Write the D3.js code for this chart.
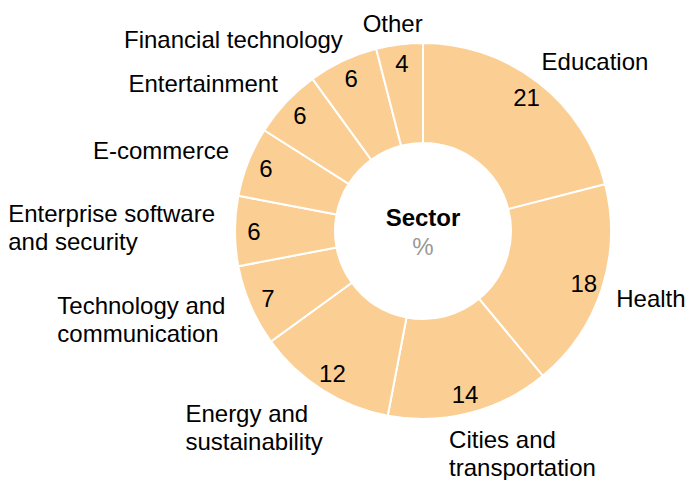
<!DOCTYPE html>
<html>
<head>
<meta charset="utf-8">
<script src="https://cdn.jsdelivr.net/npm/d3@7"></script>
<style>
  body { margin: 0; background: #fff; }
  text { font-family: "Liberation Sans", Arial, sans-serif; }
</style>
</head>
<body>
<script>
var w = 688;
var h = 480;

// Chart data
var sectors = [
    ["Education"],
    ["Health"],
    ["Cities and", "transportation"],
    ["Energy and", "sustainability"],
    ["Technology and", "communication"],
    ["Enterprise software", "and security"],
    ["E-commerce"],
    ["Entertainment"],
    ["Financial technology"],
    ["Other"]
];
var shares = [21, 18, 14, 12, 7, 6, 6, 6, 6, 4];
var centerTitle = "Sector";
var centerUnit = "%";

var cx = 423, cy = 231;
var outerR = 188, innerR = 88;
var valueR = 169;   // radius for the numbers in the slices
var labelR = 200;   // radius for the category names
var lineH = 28;

// small hand nudges for the category names (dx, dy), same order as sectors
var labelNudge = [[-4, 0], [3, 1], [-5, 2], [7, 4], [-14, -2],
                  [-8, -4], [-8, -2], [1, -1], [5, 2], [6, 5]];

var svg = d3.select("body")
    .append("svg")
    .attr("width", w)
    .attr("height", h);

var g = svg.append("g")
    .attr("transform", "translate(" + cx + "," + cy + ")");

var pie = d3.pie()
    .sort(null)
    .value(function (d) { return d; });

var arc = d3.arc()
    .innerRadius(innerR)
    .outerRadius(outerR);

var arcs = pie(shares);

g.selectAll("path")
    .data(arcs)
    .enter()
    .append("path")
    .attr("d", arc)
    .attr("fill", "#fbcf93")
    .attr("stroke", "#fff")
    .attr("stroke-width", 2);

// values inside the slices
g.selectAll("text.value")
    .data(arcs)
    .enter()
    .append("text")
    .attr("class", "value")
    .attr("x", function (d) { return Math.sin((d.startAngle + d.endAngle) / 2) * valueR; })
    .attr("y", function (d) { return -Math.cos((d.startAngle + d.endAngle) / 2) * valueR; })
    .attr("text-anchor", "middle")
    .attr("dominant-baseline", "central")
    .attr("font-size", 24)
    .attr("fill", "#000")
    .text(function (d) { return d.data; });

// category names around the ring
arcs.forEach(function (d, i) {
    var a = (d.startAngle + d.endAngle) / 2;
    var s = Math.sin(a), c = Math.cos(a);
    var px = s * labelR, py = -c * labelR;
    var lines = sectors[i];

    var t = g.append("text")
        .attr("font-size", 24)
        .attr("fill", "#000");
    lines.forEach(function (line, j) {
        t.append("tspan")
            .attr("x", 0)
            .attr("y", j * lineH)
            .text(line);
    });
    var bw = t.node().getBBox().width;

    var k = Math.max(-1, Math.min(1, s * 3));
    var left = px - bw * (1 - k) / 2 + labelNudge[i][0];
    var blockH = lines.length * lineH;
    var midY = py - c * blockH / 2;
    // first baseline: block middle minus half of the extra lines, plus half cap height
    var base = midY - (lines.length - 1) * lineH / 2 + 8.5 + labelNudge[i][1];

    t.attr("transform", "translate(" + left + "," + base + ")");
});

// centre text
g.append("text")
    .attr("text-anchor", "middle")
    .attr("y", -5)
    .attr("font-size", 24)
    .attr("font-weight", "bold")
    .attr("fill", "#000")
    .text(centerTitle);

g.append("text")
    .attr("text-anchor", "middle")
    .attr("y", 24)
    .attr("font-size", 24)
    .attr("fill", "#999")
    .text(centerUnit);
</script>
</body>
</html>
